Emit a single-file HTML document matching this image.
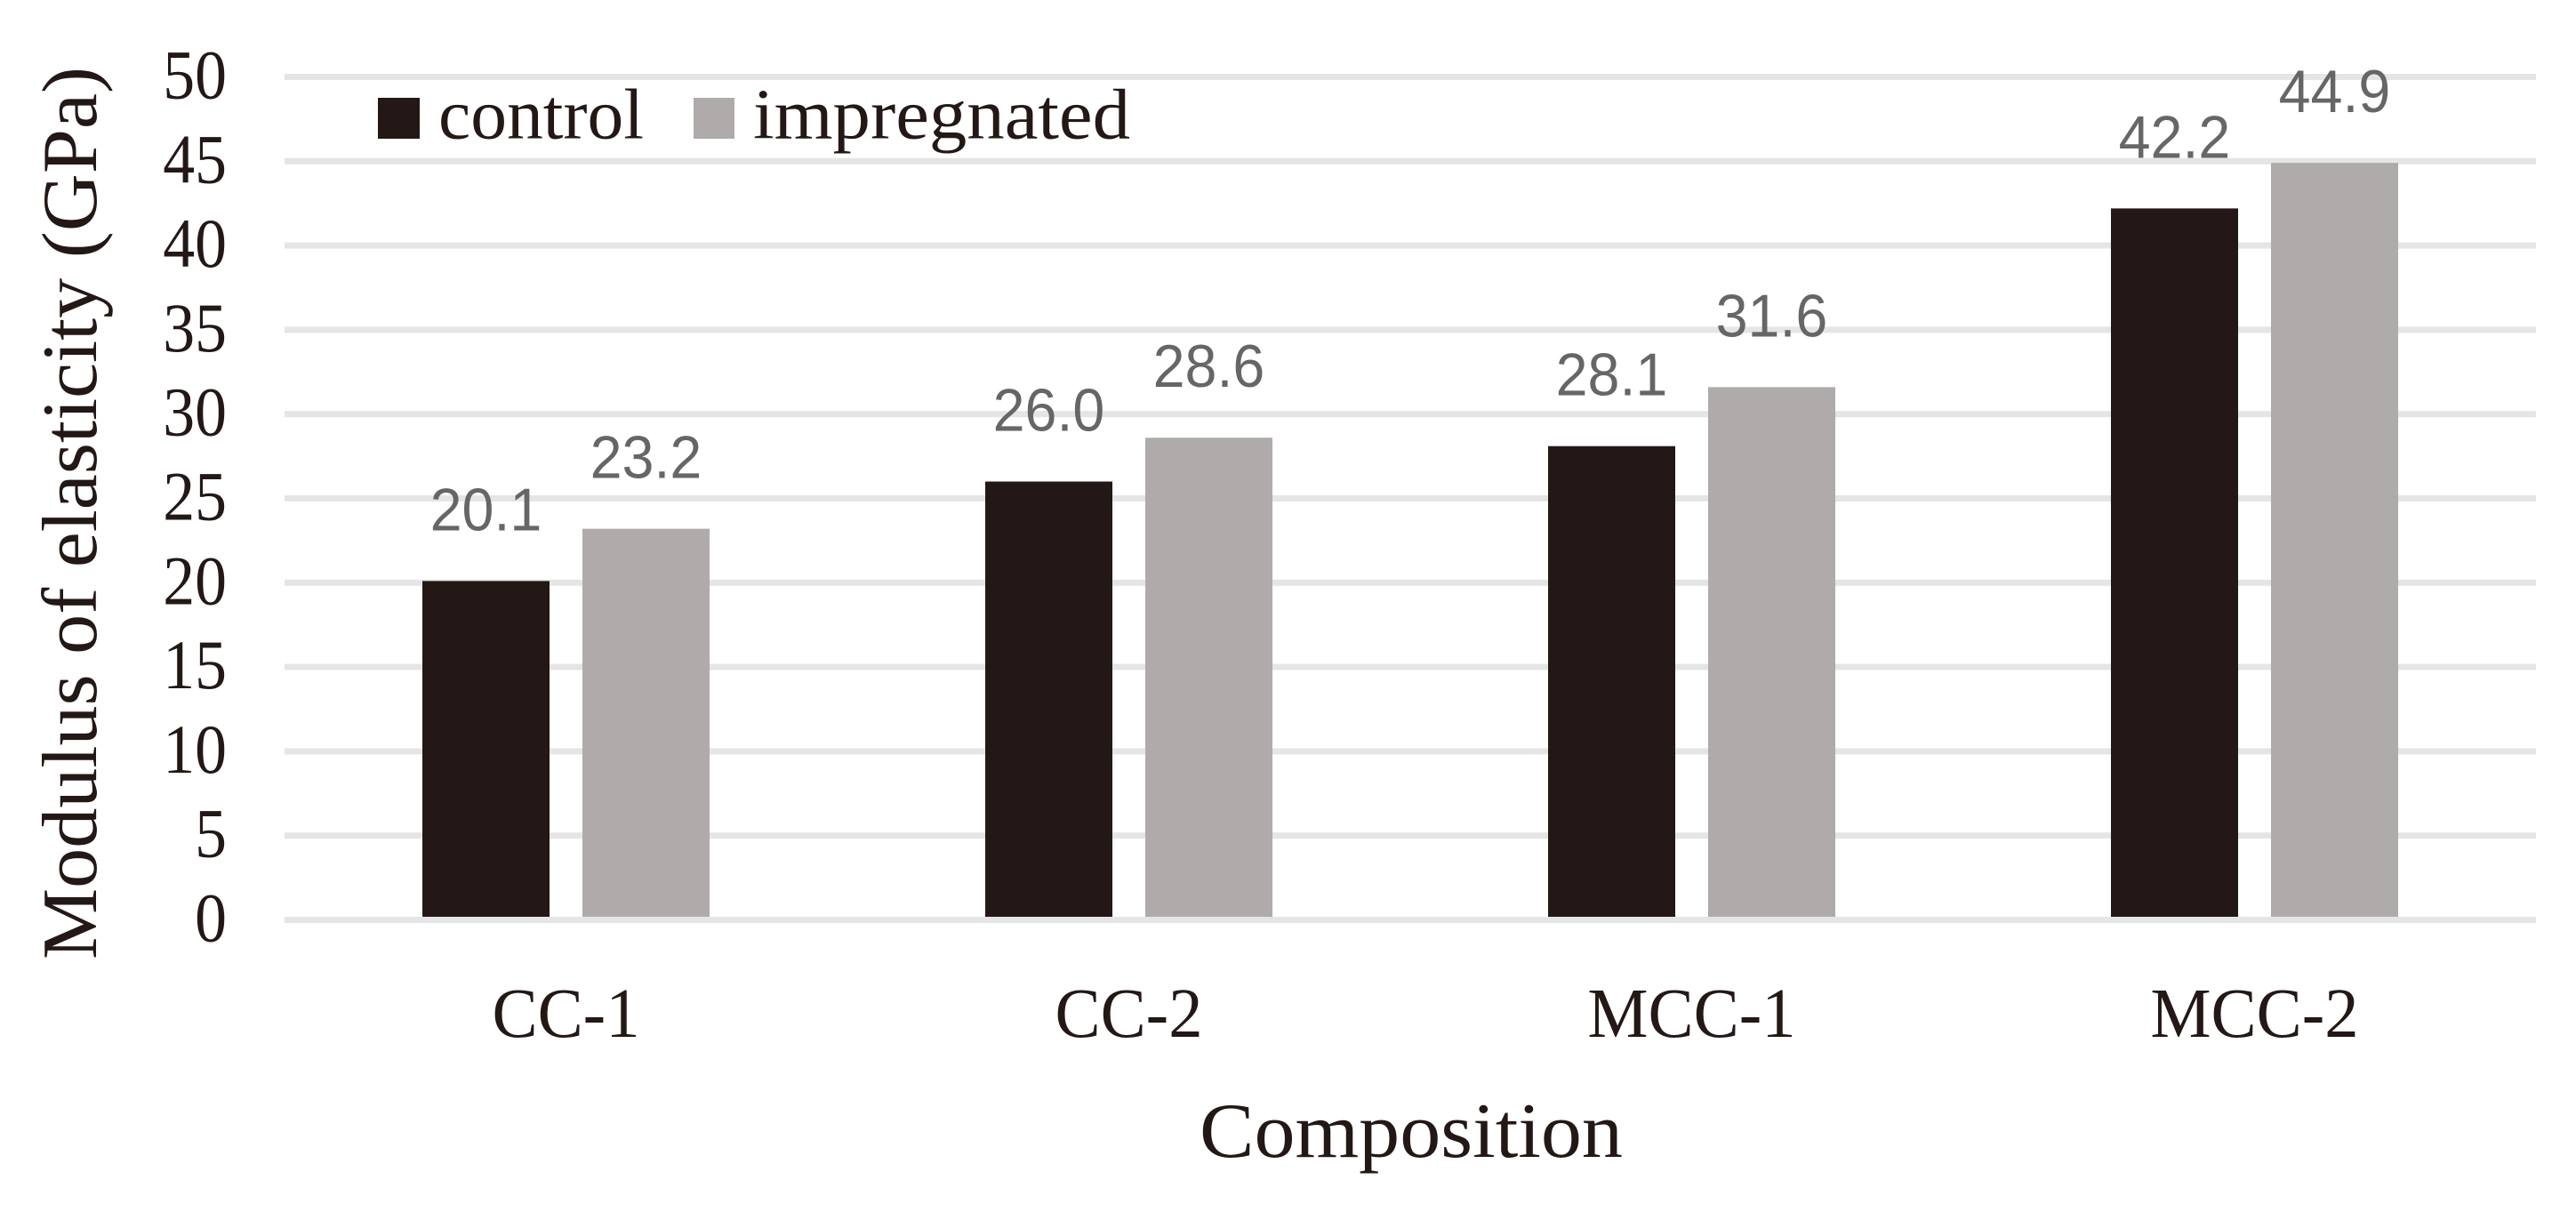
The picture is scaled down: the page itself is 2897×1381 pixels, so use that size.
<!DOCTYPE html>
<html lang="en">
<head>
<meta charset="utf-8">
<title>Modulus of elasticity by composition</title>
<style>
html,body{margin:0;padding:0;background:#fff;}
svg{display:block;}
.serif{font-family:"Liberation Serif",serif;fill:#231815;}
.value{font-family:"Liberation Sans",sans-serif;fill:#666666;font-size:68px;text-anchor:middle;}
</style>
</head>
<body>
<svg id="chart" xmlns="http://www.w3.org/2000/svg" width="2897" height="1381" viewBox="0 0 2897 1381">
  <rect x="0" y="0" width="2897" height="1381" fill="#ffffff"/>
  <g id="grid"></g>
  <g id="yticks"></g>
  <g id="bars"></g>
  <g id="values"></g>
  <g id="xticks"></g>
  <g>
    <g>
      <rect x="425" y="110" width="47" height="46" fill="#231815"/>
      <text class="serif" x="493" y="155.5" font-size="80" textLength="231" lengthAdjust="spacingAndGlyphs">control</text>
    </g>
    <g>
      <rect x="780" y="110" width="46" height="46" fill="#afabaa"/>
      <text class="serif" x="847" y="155.5" font-size="80" textLength="424" lengthAdjust="spacingAndGlyphs">impregnated</text>
    </g>
  </g>
  <text class="serif" transform="translate(108,1079) rotate(-90)" x="0" y="0" font-size="88" textLength="1004" lengthAdjust="spacingAndGlyphs">Modulus of elasticity (GPa)</text>
  <text class="serif" x="1349" y="1301" font-size="88" textLength="476" lengthAdjust="spacingAndGlyphs">Composition</text>
</svg>
<script>
const categories = ["CC-1", "CC-2", "MCC-1", "MCC-2"];
const controlValues = [20.1, 26.0, 28.1, 42.2];
const impregnatedValues = [23.2, 28.6, 31.6, 44.9];
const valueTicks = [0, 5, 10, 15, 20, 25, 30, 35, 40, 45, 50];

const SVG_NS = "http://www.w3.org/2000/svg";
const plotLeft = 320, plotRight = 2852, plotBase = 1034.5, plotTop = 86.5, axisMax = 50;
const gridThickness = 7, barWidth = 143, barOffset = 90;

function yScale(v) {
  return plotBase - (v / axisMax) * (plotBase - plotTop);
}
function xCenter(i) {
  return plotLeft + (i + 0.5) * (plotRight - plotLeft) / categories.length;
}
function make(tag, parentId, props, text) {
  const el = document.createElementNS(SVG_NS, tag);
  for (const k in props) el.setAttribute(k, props[k]);
  if (text !== undefined) el.textContent = text;
  document.getElementById(parentId).appendChild(el);
  return el;
}
function condense(el, factor) {
  el.setAttribute("textLength", el.getComputedTextLength() * factor);
  el.setAttribute("lengthAdjust", "spacingAndGlyphs");
}

valueTicks.forEach(function (t) {
  const line = make("rect", "grid", {
    x: plotLeft, y: yScale(t) - gridThickness / 2,
    width: plotRight - plotLeft, height: gridThickness, fill: "#e5e5e5"
  });
  
  

  const label = make("text", "yticks", {
    x: 255, y: yScale(t) + 24, "font-size": 78, "text-anchor": "end", "class": "serif"
  }, String(t));
  
  
  condense(label, 0.92);
});

function drawSeries(values, offset, color, seriesName) {
  values.forEach(function (v, i) {
    const cx = xCenter(i) + offset;
    const top = yScale(v);
    const bottom = plotBase - gridThickness / 2;
    const bar = make("rect", "bars", {
      x: cx - barWidth / 2, y: top, width: barWidth, height: bottom - top, fill: color
    });
    
    

    const val = make("text", "values", {
      x: cx, y: top - 57, "class": "value"
    }, v.toFixed(1));
    
    
    condense(val, 0.95);
  });
}
drawSeries(controlValues, -barOffset, "#231815", "control");
drawSeries(impregnatedValues, barOffset, "#afabaa", "impregnated");

categories.forEach(function (c, i) {
  const label = make("text", "xticks", {
    x: xCenter(i), y: 1166, "font-size": 79, "text-anchor": "middle", "class": "serif"
  }, c);
  
  
  condense(label, 0.97);
});
</script>
</body>
</html>
